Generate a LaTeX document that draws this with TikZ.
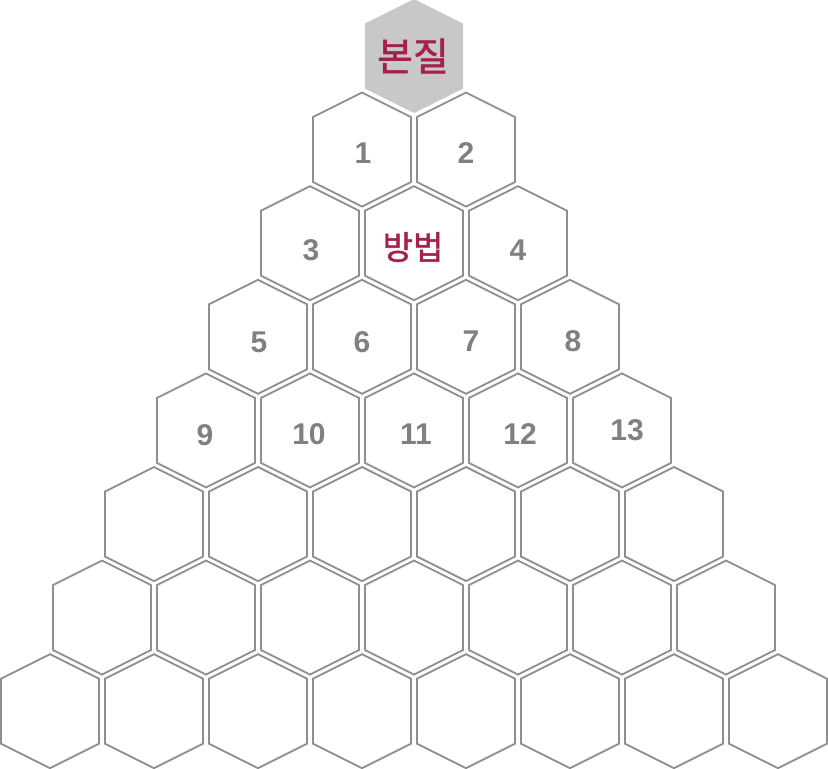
\documentclass[tikz,border=0pt]{standalone}
\usepackage{fontspec}
\setmainfont{Liberation Sans}
\newfontfamily\kofont{Noto Sans CJK KR}[FakeBold=1.4]
\usetikzlibrary{calc}
\definecolor{hexline}{RGB}{142,142,142}
\definecolor{hexfill}{RGB}{200,200,200}
\definecolor{numgray}{RGB}{128,128,128}
\definecolor{keyred}{RGB}{165,32,74}
\def\hexcell[#1](#2,#3){\draw[#1,shift={(#2,#3)}] (-49,-32.5) -- (0,-57) -- (49,-32.5) -- (49,32.5) -- (0,57) -- (-49,32.5) -- cycle;}
\tikzset{
  numtext/.style={text=numgray, font=\bfseries\fontsize{30}{32}\selectfont, inner sep=0pt},
  keytext/.style={text=keyred, inner sep=0pt}
}

\begin{document}
\begin{tikzpicture}[x=1pt,y=-1pt]
		%%%%% START %%%%%
		\useasboundingbox (0,0) rectangle (828,769);
		
		\hexcell[fill=hexfill, draw=none](414,56)
		\foreach \r in {1,...,7}
		  \foreach \k in {0,...,\r}{
		    \pgfmathsetmacro\cx{414-52*\r+104*\k}
		    \pgfmathsetmacro\cy{56+93.6*\r}
		    \hexcell[draw=hexline, line width=1.8pt, line join=miter](\cx,\cy)
		  }
		
		\node[keytext, font=\kofont\fontsize{39}{42}\selectfont] (essence) at (413,56) {본질};
		\node[keytext, font=\kofont\fontsize{33}{36}\selectfont] (method) at (413,247) {방법};
		
		\node[numtext] (n1) at (363,153) {1};
		\node[numtext] (n2) at (466,153) {2};
		\node[numtext] (n3) at (311,250) {3};
		\node[numtext] (n4) at (518,250) {4};
		\node[numtext] (n5) at (259,342) {5};
		\node[numtext] (n6) at (362,342) {6};
		\node[numtext] (n7) at (471,341) {7};
		\node[numtext] (n8) at (573,341) {8};
		\node[numtext] (n9) at (205,435) {9};
		\node[numtext] (n10) at (309,434) {10};
		\node[numtext] (n11) at (416,434) {11};
		\node[numtext] (n12) at (520,434) {12};
		\node[numtext] (n13) at (627,430) {13};
		%%%%% END %%%%%
\end{tikzpicture}
\end{document}
